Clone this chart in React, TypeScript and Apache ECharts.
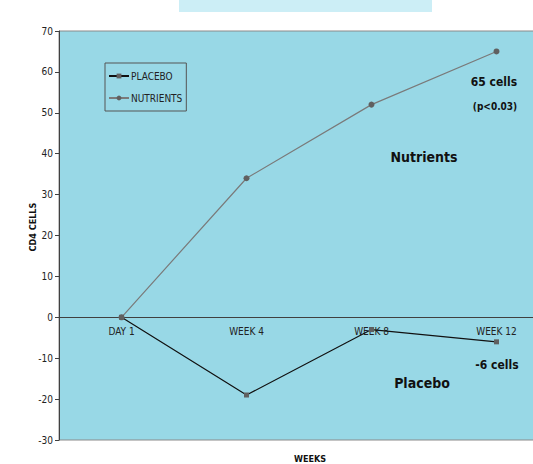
import React, { useEffect, useRef } from "react";
import * as echarts from "echarts";

const categories = ["DAY 1", "WEEK 4", "WEEK 8", "WEEK 12"];
const placebo = [0, -19, -3, -6];
const nutrients = [0, 34, 52, 65];
const yMin = -30;
const yMax = 70;
const yStep = 10;

const FONT = "'DejaVu Sans Condensed', 'DejaVu Sans', sans-serif";

const GRID_TOP = 31;
const GRID_BOTTOM = 24;
const CHART_H = 464;

export default function App() {
  const ref = useRef<HTMLDivElement>(null);

  useEffect(() => {
    document.body.style.margin = "0";
    const chart = echarts.init(ref.current!, null, { renderer: "svg" });
    // the category axis sits on the zero line of the value axis
    const plotH = CHART_H - GRID_TOP - GRID_BOTTOM;
    const zeroFromBottom = ((0 - yMin) / (yMax - yMin)) * plotH;
    chart.setOption({
      animation: false,
      backgroundColor: "#ffffff",
      textStyle: { fontFamily: FONT },
      grid: {
        left: 59,
        top: GRID_TOP,
        bottom: GRID_BOTTOM,
        width: 500,
        outerBoundsMode: "none",
        containLabel: false,
        show: true,
        backgroundColor: "#98D8E6",
        borderColor: "#8a8a8a",
        borderWidth: 1,
      },
      legend: {
        orient: "vertical",
        left: 105,
        top: 63,
        width: 79,
        padding: [8, 4, 8, 3],
        itemGap: 12,
        itemWidth: 20,
        itemHeight: 6,
        borderColor: "#555",
        borderWidth: 1,
        backgroundColor: "#98D8E6",
        textStyle: { fontFamily: FONT, fontSize: 10, color: "#222", padding: [0, 0, 0, -3] },
        data: ["PLACEBO", "NUTRIENTS"],
      },
      xAxis: {
        type: "category",
        data: categories,
        boundaryGap: true,
        offset: -zeroFromBottom,
        axisLine: { onZero: false, lineStyle: { color: "#404040", width: 1 } },
        axisTick: { inside: true, length: 3, lineStyle: { color: "#404040" } },
        axisLabel: { color: "#222", fontSize: 10, margin: 9, fontFamily: FONT },
        splitLine: { show: false },
      },
      yAxis: {
        type: "value",
        min: yMin,
        max: yMax,
        interval: yStep,
        axisLine: { show: true, lineStyle: { color: "#404040" } },
        axisTick: { show: true, length: 4, lineStyle: { color: "#404040" } },
        axisLabel: { color: "#222", fontSize: 10, margin: 6, fontFamily: FONT },
        splitLine: { show: false },
      },
      series: [
        {
          name: "PLACEBO",
          type: "line",
          data: placebo,
          symbol: "rect",
          symbolSize: 5,
          itemStyle: { color: "#606060" },
          lineStyle: { color: "#111111", width: 1.2 },
          z: 3,
        },
        {
          name: "NUTRIENTS",
          type: "line",
          data: nutrients,
          symbol: "circle",
          symbolSize: 6,
          itemStyle: { color: "#606060" },
          lineStyle: { color: "#7a7a7a", width: 1.2 },
          z: 2,
        },
      ],
      graphic: [
        {
          type: "rect",
          shape: { x: 179, y: 0, width: 253, height: 12 },
          style: { fill: "#CCEEF6" },
        },
        {
          type: "text",
          x: 494,
          y: 82,
          style: { text: "65 cells", font: `bold 12px ${FONT}`, fill: "#111", align: "center", verticalAlign: "middle" },
        },
        {
          type: "text",
          x: 495,
          y: 106,
          style: { text: "(p<0.03)", font: `bold 10px ${FONT}`, fill: "#111", align: "center", verticalAlign: "middle" },
        },
        {
          type: "text",
          x: 424,
          y: 157,
          style: { text: "Nutrients", font: `bold 14px ${FONT}`, fill: "#111", align: "center", verticalAlign: "middle" },
        },
        {
          type: "text",
          x: 497,
          y: 365,
          style: { text: "-6 cells", font: `bold 12px ${FONT}`, fill: "#111", align: "center", verticalAlign: "middle" },
        },
        {
          type: "text",
          x: 422,
          y: 383,
          style: { text: "Placebo", font: `bold 14px ${FONT}`, fill: "#111", align: "center", verticalAlign: "middle" },
        },
        {
          type: "text",
          x: 310,
          y: 459,
          style: { text: "WEEKS", font: `bold 9px ${FONT}`, fill: "#111", align: "center", verticalAlign: "middle" },
        },
        {
          type: "text",
          x: 33,
          y: 227,
          rotation: Math.PI / 2,
          style: { text: "CD4 CELLS", font: `bold 9px ${FONT}`, fill: "#111", align: "center", verticalAlign: "middle" },
        },
      ],
    });
    return () => chart.dispose();
  }, []);

  return <div ref={ref} style={{ width: 533, height: 464 }} />;
}
